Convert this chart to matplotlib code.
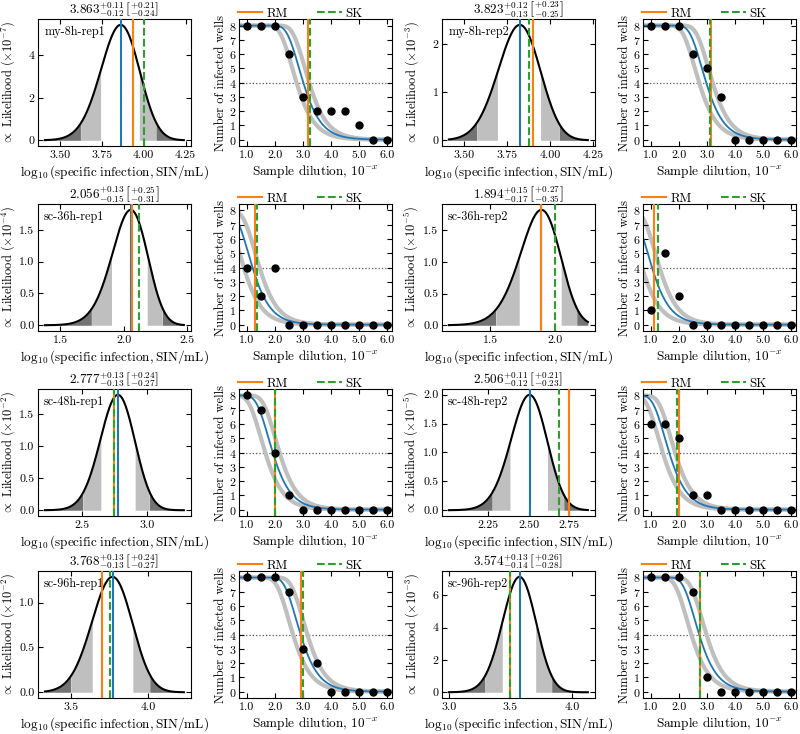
import numpy as np
import matplotlib
matplotlib.use('Agg')
import matplotlib.pyplot as plt
from matplotlib.ticker import MultipleLocator, FormatStrFormatter
from matplotlib.lines import Line2D
from math import comb

plt.rcParams.update({
    'font.family': 'serif', 'font.serif': ['cmr10'], 'mathtext.fontset': 'cm',
    'axes.formatter.use_mathtext': True,
    'xtick.direction': 'in', 'ytick.direction': 'in',
    'xtick.top': True, 'ytick.right': True,
    'xtick.labelsize': 8.6, 'ytick.labelsize': 8.6,
    'font.size': 9,
})

# ---------------- data ----------------
names = ['my-8h-rep1', 'my-8h-rep2', 'sc-36h-rep1', 'sc-36h-rep2',
         'sc-48h-rep1', 'sc-48h-rep2', 'sc-96h-rep1', 'sc-96h-rep2']
dilutions = [1.0, 1.5, 2.0, 2.5, 3.0, 3.5, 4.0, 4.5, 5.0, 5.5, 6.0]
n_wells = 8
inf_my8_1 = [8, 8, 8, 6, 3, 2, 2, 2, 1, 0, 0]
inf_my8_2 = [8, 8, 8, 6, 5, 3, 0, 0, 0, 0, 0]
inf_sc36_1 = [4, 2, 4, 0, 0, 0, 0, 0, 0, 0, 0]
inf_sc36_2 = [1, 5, 2, 0, 0, 0, 0, 0, 0, 0, 0]
inf_sc48_1 = [8, 7, 4, 1, 0, 0, 0, 0, 0, 0, 0]
inf_sc48_2 = [6, 6, 5, 1, 1, 0, 0, 0, 0, 0, 0]
inf_sc96_1 = [8, 8, 8, 7, 3, 2, 0, 0, 0, 0, 0]
inf_sc96_2 = [8, 8, 8, 7, 1, 0, 0, 0, 0, 0, 0]
infected = [inf_my8_1, inf_my8_2, inf_sc36_1, inf_sc36_2,
            inf_sc48_1, inf_sc48_2, inf_sc96_1, inf_sc96_2]

mle = [3.863, 3.823, 2.056, 1.894, 2.777, 2.506, 3.768, 3.574]
err68_hi = [0.11, 0.12, 0.13, 0.15, 0.13, 0.11, 0.13, 0.13]
err68_lo = [0.12, 0.13, 0.15, 0.17, 0.13, 0.12, 0.13, 0.14]
err95_hi = [0.21, 0.23, 0.25, 0.27, 0.24, 0.21, 0.24, 0.26]
err95_lo = [0.24, 0.25, 0.31, 0.35, 0.27, 0.23, 0.27, 0.28]
scale_exp = [-7, -3, -4, -5, -2, -5, -2, -3]
curve_lo = [3.41, 3.41, 1.38, 1.185, 2.22, 2.01, 3.33, 3.00]
curve_hi = [4.24, 4.22, 2.475, 2.25, 3.28, 2.865, 4.23, 4.13]

lik_xticks = [[3.50, 3.75, 4.00, 4.25], [3.50, 3.75, 4.00, 4.25], [1.5, 2.0, 2.5],
              [1.5, 2.0], [2.5, 3.0], [2.25, 2.50, 2.75], [3.5, 4.0], [3.0, 3.5, 4.0]]
lik_xfmt = ['%.2f', '%.2f', '%.1f', '%.1f', '%.1f', '%.2f', '%.1f', '%.1f']
lik_yticks = [[0, 2, 4], [0, 1, 2], [0, 0.5, 1.0, 1.5], [0, 0.5, 1.0, 1.5],
              [0, 0.5, 1.0, 1.5], [0, 0.5, 1.0, 1.5, 2.0], [0, 0.5, 1.0], [0, 2, 4, 6]]
lik_yfmt = ['%d', '%d', '%.1f', '%.1f', '%.1f', '%.1f', '%.1f', '%d']

vol_log = 1.0        # 0.1 mL inoculum -> +1 in log10
tcid_to_sin = 0.75   # log10 shift from TCID50 endpoint to SIN/mL

# ---------------- helpers ----------------
def expected_frac(m, x):
    lam = 10.0 ** (m - vol_log - np.asarray(x))
    return -np.expm1(-lam)

def likelihood(mgrid, k):
    logL = np.zeros_like(mgrid)
    for xi, ki in zip(dilutions, k):
        lam = 10.0 ** (mgrid - vol_log - xi)
        logp = np.log(-np.expm1(-lam) + 1e-300)
        logL += np.log(comb(n_wells, int(ki))) + ki * logp - (n_wells - ki) * lam
    return np.exp(logL)

def spearman_karber(k):
    p = np.asarray(k) / n_wells
    d = dilutions[1] - dilutions[0]
    return dilutions[0] + d * (p.sum() - 0.5)

def reed_muench(k):
    k = np.asarray(k, float)
    u = n_wells - k
    ci = np.cumsum(k[::-1])[::-1]
    cu = np.cumsum(u)
    pct = ci / (ci + cu)
    for j in range(len(pct) - 1):
        if pct[j] >= 0.5 > pct[j + 1]:
            pd = (pct[j] - 0.5) / (pct[j] - pct[j + 1])
            return dilutions[j] + pd * (dilutions[j + 1] - dilutions[j])
    return dilutions[-1]

C_BLUE = '#1f77b4'
C_ORANGE = '#ff7f0e'
C_GREEN = '#2ca02c'
C_DARK = '#737373'
C_LIGHT = '#bfbfbf'
XLBL = 9.5
YLBL = 9.0

fig = plt.figure(figsize=(8.0, 7.34), dpi=100)
lefts = [0.0475, 0.299, 0.5525, 0.804]
bottoms = [0.801, 0.549, 0.297, 0.049]
W, H = 0.191, 0.173

for i, name in enumerate(names):
    row, pair = divmod(i, 2)
    axL = fig.add_axes([lefts[2 * pair], bottoms[row], W, H])
    axD = fig.add_axes([lefts[2 * pair + 1], bottoms[row], W, H])

    rm = reed_muench(infected[i])
    sk = spearman_karber(infected[i])

    # ---- likelihood panel ----
    mg = np.linspace(curve_lo[i], curve_hi[i], 600)
    L = likelihood(mg, infected[i]) / 10.0 ** scale_exp[i]
    m0 = mle[i]
    a95, a68 = m0 - err95_lo[i], m0 - err68_lo[i]
    b68, b95 = m0 + err68_hi[i], m0 + err95_hi[i]
    axL.fill_between(mg, 0, L, where=mg <= a95, color=C_DARK, lw=0)
    axL.fill_between(mg, 0, L, where=(mg >= a95) & (mg <= a68), color=C_LIGHT, lw=0)
    axL.fill_between(mg, 0, L, where=(mg >= b68) & (mg <= b95), color=C_LIGHT, lw=0)
    axL.fill_between(mg, 0, L, where=mg >= b95, color=C_DARK, lw=0)
    axL.plot(mg, L, color='k', lw=1.5, zorder=3)
    axL.axvline(m0, color=C_BLUE, lw=1.5, zorder=4)
    axL.axvline(rm + tcid_to_sin, color=C_ORANGE, lw=1.5, zorder=5)
    axL.axvline(sk + tcid_to_sin, color=C_GREEN, lw=1.5, ls='--', zorder=6)
    axL.set_xticks(lik_xticks[i])
    axL.xaxis.set_major_formatter(FormatStrFormatter(lik_xfmt[i]))
    axL.set_yticks(lik_yticks[i])
    axL.yaxis.set_major_formatter(FormatStrFormatter(lik_yfmt[i]))
    axL.tick_params(axis='y', pad=2.5)
    axL.set_xlabel(r'$\log_{10}(\mathrm{specific\ infection},\mathrm{SIN/mL})$',
                   fontsize=XLBL, labelpad=2)
    axL.set_ylabel(r'$\propto$ Likelihood $(\times10^{%d})$' % scale_exp[i],
                   fontsize=YLBL)
    axL.yaxis.set_label_coords(-0.14, 0.5)
    axL.set_title(r'$%.3f^{+%.2f}_{-%.2f}\,\left[^{+%.2f}_{-%.2f}\right]$'
                  % (m0, err68_hi[i], err68_lo[i], err95_hi[i], err95_lo[i]),
                  fontsize=9.5, pad=1.5)
    axL.text(0.04, 0.895, name, transform=axL.transAxes, va='center', ha='left',
             fontsize=8.8)

    # ---- dilution panel ----
    xs = np.linspace(0.6, 6.4, 400)
    axD.plot(xs, n_wells * expected_frac(m0 - err95_lo[i], xs), color=C_LIGHT, lw=3, zorder=1)
    axD.plot(xs, n_wells * expected_frac(m0 + err95_hi[i], xs), color=C_LIGHT, lw=3, zorder=1)
    axD.plot(xs, n_wells * expected_frac(m0, xs), color=C_BLUE, lw=1.3, zorder=2)
    axD.axhline(n_wells / 2, color='0.35', ls=':', lw=0.9, zorder=0)
    axD.axvline(rm, color=C_ORANGE, lw=1.5, zorder=3)
    axD.axvline(sk, color=C_GREEN, lw=1.5, ls='--', zorder=4)
    axD.plot(dilutions, infected[i], 'o', color='k', ms=5, zorder=5)
    axD.set_xlim(0.74, 6.18)
    axD.set_ylim(-0.45, 8.45)
    axD.xaxis.set_major_locator(MultipleLocator(1.0))
    axD.xaxis.set_major_formatter(FormatStrFormatter('%.1f'))
    axD.yaxis.set_major_locator(MultipleLocator(1.0))
    axD.tick_params(axis='y', pad=2)
    axD.set_xlabel(r'Sample dilution, $10^{-x}$', fontsize=XLBL, labelpad=2)
    axD.set_ylabel('Number of infected wells', fontsize=YLBL)
    axD.yaxis.set_label_coords(-0.08, 0.5)
    handles = [Line2D([], [], color=C_ORANGE, lw=1.5),
               Line2D([], [], color=C_GREEN, lw=1.5, ls='--')]
    axD.legend(handles, ['RM', 'SK'], loc='lower left', bbox_to_anchor=(-0.01, 0.995),
               ncol=2, frameon=False, handlelength=1.9, handletextpad=0.3,
               columnspacing=2.3, borderaxespad=0, borderpad=0, fontsize=9.3)

fig.savefig('out.png', dpi=100)
